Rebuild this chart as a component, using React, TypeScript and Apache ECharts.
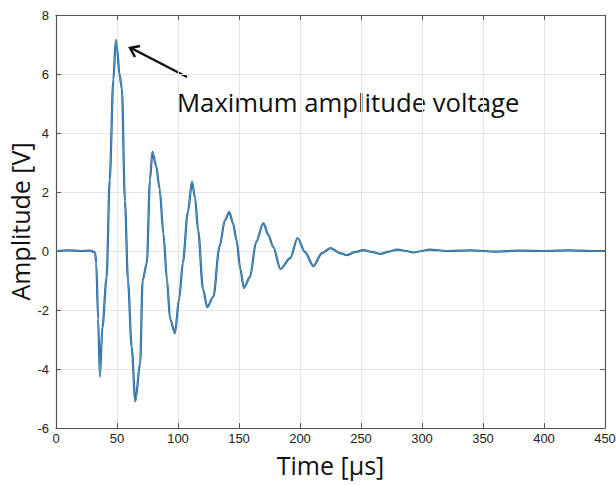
import React, { useEffect, useRef } from "react";
import * as echarts from "echarts";

const timeUs = [
  0, 10, 20, 28, 32, 33, 34.5, 36, 38, 41.5, 44, 47, 49, 50, 52, 54, 56.5, 59, 62, 65,
  69, 71, 74.5, 77, 79, 82, 85, 88, 91, 93.5, 97.5, 101, 104, 108, 111.5, 114, 116.5,
  120.5, 124, 129, 134, 138.5, 142, 145, 148, 151, 154, 159, 164, 170, 174, 178, 184,
  192, 198, 204, 211, 218, 225, 233, 238, 245, 252, 259, 266, 273, 280, 287, 293, 300,
  306, 320, 340, 360, 380, 400, 420, 440, 450,
];
const amplitudeV = [
  0, 0.02, 0, 0.01, -0.05, -0.4, -2.3, -4.25, -2.6, -0.9, 2.4, 5.8, 7.15, 6.9, 6.0, 5.5,
  1.7, -1.0, -3.25, -5.1, -3.8, -1.0, -0.4, 2.4, 3.36, 2.9, 2.1, 0.6, -1.0, -2.3, -2.78,
  -1.6, -0.4, 1.3, 2.34, 1.8, 0.7, -1.3, -1.9, -1.55, 0.15, 1.05, 1.32, 0.95, 0.37, -0.6,
  -1.25, -0.88, 0.3, 0.95, 0.55, 0.14, -0.61, -0.24, 0.44, -0.03, -0.51, -0.07, 0.1,
  -0.07, -0.14, -0.04, 0.03, -0.03, -0.1, -0.02, 0.05, 0.0, -0.05, 0.0, 0.05, 0.0, 0.02,
  -0.02, 0.01, 0.0, 0.02, 0.0, 0.0,
];
const xTicks = [0, 50, 100, 150, 200, 250, 300, 350, 400, 450];
const yTicks = [-6, -4, -2, 0, 2, 4, 6, 8];
const annotationText = "Maximum amplitude voltage";
const xTitle = "Time [µs]";
const yTitle = "Amplitude [V]";

export default function App() {
  const ref = useRef<HTMLDivElement>(null);
  useEffect(() => {
    if (!ref.current) return;
    const chart = echarts.init(ref.current, undefined, { renderer: "svg" });
    const pts = timeUs.map((t, i) => [t, amplitudeV[i]]);
    const axisLine = { show: true, onZero: false, lineStyle: { color: "#555", width: 1.2 } };
    const tickStyle = { show: true, inside: true, length: 5, lineStyle: { color: "#555" } };
    const labelStyle = { color: "#222", fontSize: 13, fontFamily: "Liberation Sans" };
    chart.setOption({
      animation: false,
      backgroundColor: "#fff",
      grid: { left: 56, right: 11, top: 15, bottom: 57, containLabel: false, outerBoundsMode: "none" },
      xAxis: [
        {
          type: "value", min: xTicks[0], max: xTicks[xTicks.length - 1], interval: 50, position: "bottom",
          axisLine, axisTick: tickStyle,
          axisLabel: { ...labelStyle, margin: 4 },
          splitLine: { show: true, lineStyle: { color: "#e6e6e6", width: 1 } },
          name: xTitle, nameLocation: "middle", nameGap: 24,
          nameTextStyle: { fontSize: 25, color: "#111", fontFamily: "Open Sans", verticalAlign: "top" },
        },
        {
          type: "value", min: xTicks[0], max: xTicks[xTicks.length - 1], interval: 50, position: "top",
          axisLine, axisTick: tickStyle, axisLabel: { show: false }, splitLine: { show: false },
        },
      ],
      yAxis: [
        {
          type: "value", min: yTicks[0], max: yTicks[yTicks.length - 1], interval: 2, position: "left",
          axisLine, axisTick: tickStyle,
          axisLabel: { ...labelStyle, margin: 7 },
          splitLine: { show: true, lineStyle: { color: "#e6e6e6", width: 1 } },
          name: yTitle, nameLocation: "middle", nameGap: 36, nameRotate: 90, nameMoveOverlap: false,
          nameTextStyle: { fontSize: 25, color: "#111", fontFamily: "Open Sans", verticalAlign: "middle" },
        },
        {
          type: "value", min: yTicks[0], max: yTicks[yTicks.length - 1], interval: 2, position: "right",
          axisLine, axisTick: tickStyle, axisLabel: { show: false }, splitLine: { show: false },
        },
      ],
      series: [
        {
          type: "line", data: pts, showSymbol: false, smooth: 0.3, smoothMonotone: "x",
          lineStyle: { color: "#1d5f98", width: 2.2 }, z: 3,
        },
        {
          type: "line", data: pts, showSymbol: false, smooth: 0.3, smoothMonotone: "x",
          lineStyle: { color: "#6aa6c9", width: 0.8 }, z: 4,
        },
      ],
      graphic: [
        { type: "line", shape: { x1: 187, y1: 77, x2: 131, y2: 48 }, style: { stroke: "#111", lineWidth: 2.5 } },
        { type: "polyline", shape: { points: [[140, 46], [130, 48], [135, 57]] }, style: { stroke: "#111", lineWidth: 2.5, fill: null } },
        {
          type: "text", x: 177, y: 102,
          style: { text: annotationText, fontSize: 25.7, fill: "#111", fontFamily: "Open Sans", verticalAlign: "middle" },
        },
      ],
    });
    return () => chart.dispose();
  }, []);
  return <div ref={ref} style={{ position: "fixed", left: 0, top: 0, width: 616, height: 485 }} />;
}
